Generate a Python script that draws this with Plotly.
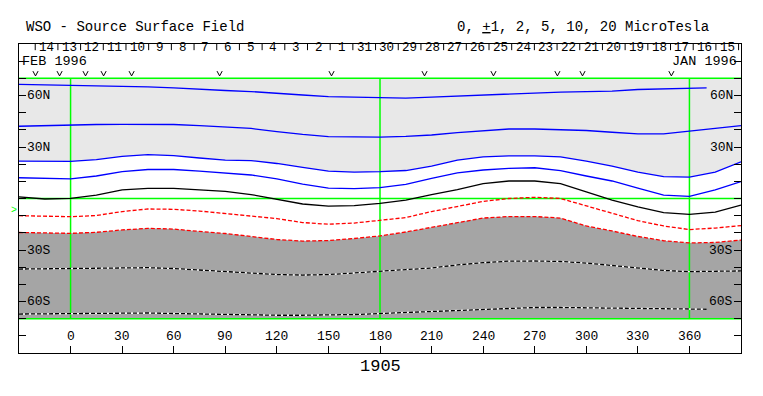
import plotly.graph_objects as go

# ---------------- data ----------------
lons = [-30, -15, 0, 15, 30, 45, 60, 75, 90, 105, 120, 135, 150, 165, 180,
        195, 210, 225, 240, 255, 270, 285, 300, 315, 330, 345, 360, 375, 390]
lons_short = lons[:27] + [370]

lat_p10 = [66.5, 66.2, 66.1, 65.6, 65.2, 65.0, 64.4, 63.5, 62.9, 62.3, 61.5, 60.3, 59.4, 59.0,
           58.8, 58.5, 59.1, 59.7, 60.6, 61.2, 61.7, 62.0, 62.3, 62.6, 63.5, 63.8, 64.2, 64.4]
lat_p5 = [42.1, 42.5, 42.8, 43.1, 43.2, 43.2, 43.1, 42.5, 41.7, 40.8, 39.0, 37.3, 36.1, 35.8, 35.8,
          36.2, 37.0, 38.4, 39.6, 40.5, 40.5, 40.2, 39.6, 38.6, 37.6, 37.6, 39.0, 40.8, 42.4]
lat_p2 = [21.8, 21.7, 21.6, 22.7, 24.5, 25.6, 25.0, 23.6, 22.4, 22.1, 20.4, 18.1, 16.0, 15.4, 15.6,
          16.3, 18.9, 22.4, 24.2, 24.8, 24.8, 24.2, 21.8, 18.9, 15.4, 12.8, 12.5, 15.4, 21.4]
lat_p1 = [12.1, 11.7, 11.4, 13.1, 15.7, 16.9, 16.9, 16.0, 14.9, 13.7, 11.4, 8.4, 6.1, 5.8, 6.3,
          8.2, 11.7, 14.9, 16.6, 17.5, 17.9, 16.3, 13.1, 10.2, 6.1, 2.0, 1.2, 5.0, 9.8]
lat_0 = [0.9, -0.3, 0.1, 2.0, 5.0, 5.9, 5.9, 5.2, 4.1, 2.3, -0.6, -3.2, -4.4, -4.1, -2.8,
         -0.9, 2.3, 5.2, 8.7, 10.2, 10.2, 8.7, 3.8, -0.9, -4.9, -8.2, -9.2, -7.9, -3.8]
lat_m1 = [-10.0, -10.5, -10.6, -9.9, -7.6, -6.1, -6.3, -7.3, -8.7, -9.9, -11.7, -14.0, -15.0, -14.3, -12.9,
          -11.1, -7.6, -4.8, -1.7, 0.0, 0.7, 0.0, -4.4, -8.7, -12.9, -16.0, -18.1, -17.2, -15.8]
lat_m2 = [-19.8, -20.1, -20.3, -19.7, -18.3, -17.4, -17.8, -19.2, -20.4, -22.1, -23.9, -24.8, -24.5, -23.3, -21.8,
          -19.5, -16.8, -13.7, -11.4, -10.5, -10.5, -11.4, -16.0, -18.9, -22.1, -24.6, -25.9, -25.6, -24.2]
lat_m5 = [-41.1, -40.9, -40.7, -40.5, -40.3, -40.3, -40.8, -41.7, -42.5, -43.7, -44.3, -44.6, -44.3, -43.4, -42.2,
          -41.4, -40.5, -38.7, -37.4, -36.5, -36.4, -36.7, -37.6, -39.0, -40.8, -41.9, -42.6, -42.5, -42.2]
lat_m10 = [-67.3, -67.1, -67.0, -66.7, -66.5, -66.7, -67.0, -67.3, -67.6, -67.9, -68.0, -68.0, -67.9, -67.6,
           -67.0, -66.4, -65.5, -64.9, -64.4, -63.8, -63.5, -63.5, -63.7, -64.0, -64.3, -64.5, -64.5, -64.5]

lon_ticks = [0, 30, 60, 90, 120, 150, 180, 210, 240, 270, 300, 330, 360]
lon_tick_labels = ["0", "30", "60", "90", "120", "150", "180", "210", "240", "270", "300", "330", "360"]
lat_tick_vals = [60, 30, -30, -60]
lat_tick_labels = ["60N", "30N", "30S", "60S"]

day_labels = ["14", "13", "12", "11", "10", "9", "8", "7", "6", "5", "4", "3", "2", "1",
              "31", "30", "29", "28", "27", "26", "25", "24", "23", "22", "21", "20", "19", "18", "17", "16", "15"]
day_offsets = [28, 27, 26, 25, 24, 23, 22, 21, 20, 19, 18, 17, 16, 15,
               14, 13, 12, 11, 10, 9, 8, 7, 6, 5, 4, 3, 2, 1, 0, -1, -2]   # days after Jan 17 1996
obs_lons = [-20.4, -6.4, 8.7, 19.2, 35.5, 86.7, 151.8, 205.9, 246.0, 283.2, 297.8, 349.5]
rotation = "1905"
earth_lat = -6.7

# ---------------- layout constants ----------------
deg_per_day = 360 / 27.2753
jan17_lon = 362.2
FONT = "Liberation Mono"
BLUE, RED, GREEN = "#0000ff", "#ff0000", "#00ff00"

fig = go.Figure()

# fills
fig.add_trace(go.Scatter(x=lons + lons[::-1], y=lat_p2 + [70] * len(lons), fill="toself",
                         fillcolor="#e8e8e8", line=dict(width=0), mode="lines", hoverinfo="skip"))
fig.add_trace(go.Scatter(x=lons + lons[::-1], y=lat_m2 + [-70] * len(lons), fill="toself",
                         fillcolor="#a5a5a5", line=dict(width=0), mode="lines", hoverinfo="skip"))

# green reference lines
for lv in [70, 0, -70]:
    fig.add_trace(go.Scatter(x=[-30, 390], y=[lv, lv], mode="lines",
                             line=dict(color=GREEN, width=1.5), hoverinfo="skip"))
for xv in [0, 180, 360]:
    fig.add_trace(go.Scatter(x=[xv, xv], y=[-70, 70], mode="lines",
                             line=dict(color=GREEN, width=1.5), hoverinfo="skip"))

# contours
def solid(x, y, color):
    fig.add_trace(go.Scatter(x=x, y=y, mode="lines", line=dict(color=color, width=1.3)))

solid(lons_short, lat_p10, BLUE)
solid(lons, lat_p5, BLUE)
solid(lons, lat_p2, BLUE)
solid(lons, lat_p1, BLUE)
solid(lons, lat_0, "black")
for arr in [lat_m1, lat_m2]:
    fig.add_trace(go.Scatter(x=lons, y=arr, mode="lines",
                             line=dict(color=RED, width=1.3, dash="4px,2px")))
for xs, arr in [(lons, lat_m5), (lons_short, lat_m10)]:
    fig.add_trace(go.Scatter(x=xs, y=arr, mode="lines", line=dict(color="white", width=1.3)))
    fig.add_trace(go.Scatter(x=xs, y=arr, mode="lines",
                             line=dict(color="black", width=1.3, dash="4px,2px")))

# observation marks ("v")
vx, vy = [], []
for o in obs_lons:
    vx += [o - 1.5, o, o + 1.5, None]
    vy += [74.2, 71.4, 74.2, None]
fig.add_trace(go.Scatter(x=vx, y=vy, mode="lines", line=dict(color="black", width=1),
                         cliponaxis=False, hoverinfo="skip"))

ann = []
# bottom tick labels
for v, t in zip(lon_ticks, lon_tick_labels):
    ann.append(dict(x=v, y=-80.5, text=t, showarrow=False, font=dict(family=FONT, size=13)))
# latitude labels
for v, t in zip(lat_tick_vals, lat_tick_labels):
    ann.append(dict(x=-30, y=v, text=t, xanchor="left", xshift=6, showarrow=False,
                    font=dict(family=FONT, size=13)))
    ann.append(dict(x=390, y=v, text=t, xanchor="right", xshift=-6, showarrow=False,
                    font=dict(family=FONT, size=13)))
# day labels & ticks
shapes = []
for lab, off in zip(day_labels, day_offsets):
    c = jan17_lon - (off + 0.5) * deg_per_day
    ann.append(dict(x=c, y=87.4, text=lab, showarrow=False, font=dict(family=FONT, size=12.5)))
bounds = list(range(day_offsets[0] + 1, day_offsets[-1] - 1, -1))
for off in bounds:
    b = jan17_lon - off * deg_per_day
    shapes.append(dict(type="line", xref="x", yref="y", x0=b, x1=b, y0=90, y1=86.4,
                       line=dict(color="black", width=1)))
ann.append(dict(x=-30, y=80.1, text="FEB 1996", xanchor="left", xshift=1, showarrow=False,
                font=dict(family=FONT, size=13.5)))
ann.append(dict(x=390, y=80.1, text="JAN 1996", xanchor="right", xshift=-2, showarrow=False,
                font=dict(family=FONT, size=13.5)))
# titles (paper coords: plot area spans 0..1)
ann.append(dict(xref="paper", yref="paper", x=0.0069, y=1.055, text="WSO - Source Surface Field",
                xanchor="left", yanchor="middle", showarrow=False, font=dict(family=FONT, size=14)))
ann.append(dict(xref="paper", yref="paper", x=0.958, y=1.055,
                text="0, <u>+</u>1, 2, 5, 10, 20 MicroTesla", xanchor="right", yanchor="middle",
                showarrow=False, font=dict(family=FONT, size=14)))
ann.append(dict(x=180, yref="paper", y=-0.045, text=rotation, yanchor="middle", showarrow=False,
                font=dict(family=FONT, size=17)))
ann.append(dict(x=-30, y=earth_lat, text=">", xanchor="right", xshift=0, showarrow=False,
                font=dict(family=FONT, size=10, color=GREEN)))

# page body has an 8px margin: size the figure so the frame lands where the reference has it
fig.update_layout(
    width=747, height=380,
    margin=dict(l=11, r=14, t=36, b=35),
    paper_bgcolor="white", plot_bgcolor="white",
    font=dict(family=FONT, color="black"),
    showlegend=False,
    annotations=ann, shapes=shapes,
    xaxis=dict(range=[-30, 390], showgrid=False, zeroline=False, showline=True, linecolor="black",
               linewidth=1, mirror=True, tickvals=lon_ticks, ticks="inside", ticklen=7,
               tickcolor="black", showticklabels=False),
    yaxis=dict(range=[-90, 90], showgrid=False, zeroline=False, showline=True, linecolor="black",
               linewidth=1, mirror="ticks", tickvals=list(range(-80, 81, 10)), ticks="inside",
               ticklen=7, tickcolor="black", showticklabels=False),
)

fig.write_html("out.html")
